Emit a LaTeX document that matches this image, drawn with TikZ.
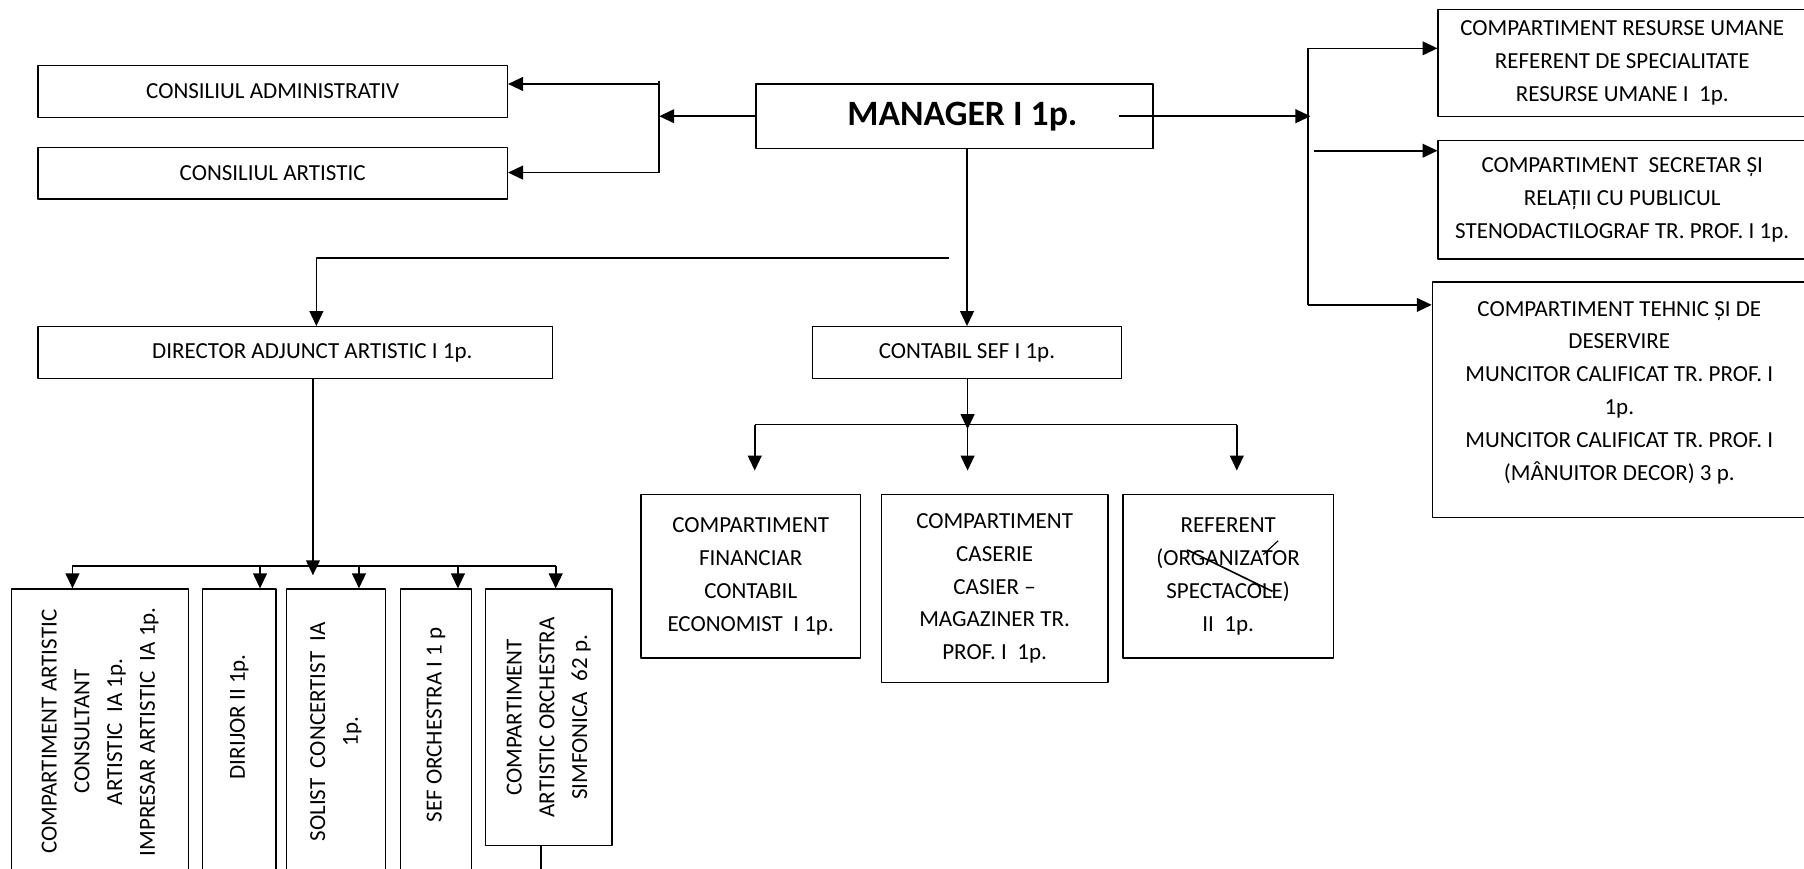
\documentclass[tikz,border=0pt]{standalone}
\usepackage{fontspec}
\setmainfont{Carlito}
\usetikzlibrary{arrows.meta}
\begin{document}
\begin{tikzpicture}[x=1pt,y=-1pt,line join=round,
	caseta/.style={draw,line width=1.2pt,inner sep=0pt,align=center,font=\fontsize{20}{28.5}\selectfont},
	sageata/.style={line width=1.4pt,-{Triangle[length=13pt,width=12pt]}},
	linie/.style={line width=1.4pt}]
	\clip (0,0) rectangle (1568,755);
	\fill[white] (0,0) rectangle (1568,755);
	%%%%%%%%%%%% CONDUCERE
	\node[caseta,minimum width=345,minimum height=56,font=\fontsize{31}{36}\selectfont\bfseries] (manager) at (829.5,101) {\hspace*{14pt}MANAGER I 1p.};
	\node[caseta,minimum width=408,minimum height=45] (consAdm) at (237,79.5) {CONSILIUL ADMINISTRATIV};
	\node[caseta,minimum width=408,minimum height=45] (consArt) at (237,150.5) {CONSILIUL ARTISTIC};
	%%%%%%%%%%%% COMPARTIMENTE DREAPTA
	\node[caseta,minimum width=320,minimum height=93] (resUm) at (1410,54.5) {COMPARTIMENT RESURSE UMANE\\REFERENT DE SPECIALITATE\\RESURSE UMANE I~~1p.};
	\node[caseta,minimum width=320,minimum height=103] (secretar) at (1410,173.5) {COMPARTIMENT~~SECRETAR ȘI\\RELAȚII CU PUBLICUL\\STENODACTILOGRAF TR. PROF. I 1p.};
	\node[caseta,minimum width=325,minimum height=205] (tehnic) at (1407.5,347.5) {COMPARTIMENT TEHNIC ȘI DE\\DESERVIRE\\MUNCITOR CALIFICAT TR. PROF. I\\1p.\\MUNCITOR CALIFICAT TR. PROF. I\\(MÂNUITOR DECOR) 3 p.\\[-12.5pt]};
	%%%%%%%%%%%% NIVEL 2
	\node[caseta,minimum width=447,minimum height=45] (director) at (256.5,306.5) {\hspace*{30pt}DIRECTOR ADJUNCT ARTISTIC I 1p.};
	\node[caseta,minimum width=269,minimum height=45] (contabil) at (840.5,306.5) {CONTABIL SEF I 1p.};
	%%%%%%%%%%%% FINANCIAR
	\node[caseta,minimum width=191,minimum height=142] (financiar) at (652.5,501) {COMPARTIMENT\\FINANCIAR\\CONTABIL\\ECONOMIST~~I 1p.};
	\node[caseta,minimum width=197,minimum height=163] (caserie) at (864.5,511.5) {COMPARTIMENT\\CASERIE\\CASIER --\\MAGAZINER TR.\\PROF. I~~1p.};
	\node[caseta,minimum width=183,minimum height=142] (referent) at (1067.5,501) {REFERENT\\(ORGANIZATOR\\SPECTACOLE)\\II~~1p.};
	\draw[line width=1.4pt] (1032,478) -- (1106,514);
	\draw[line width=1pt] (1098,482) -- (1111,470);
	%%%%%%%%%%%% ARTISTIC (text vertical)
	\node[caseta,rotate=90,minimum width=248,minimum height=154] (consultant) at (87,636) {COMPARTIMENT ARTISTIC\\CONSULTANT\\ARTISTIC~~IA 1p.\\IMPRESAR ARTISTIC~~IA 1p.};
	\node[caseta,rotate=90,minimum width=248,minimum height=64] (dirijor) at (208,636) {\hspace*{26pt}DIRIJOR II 1p.};
	\node[caseta,rotate=90,minimum width=248,minimum height=86] (solist) at (292,636) {SOLIST~~CONCERTIST~~IA\\1p.};
	\node[caseta,rotate=90,minimum width=248,minimum height=62] (sefOrch) at (379,636) {\hspace*{12pt}SEF ORCHESTRA I 1 p};
	\node[caseta,rotate=90,minimum width=223,minimum height=110] (orchestra) at (477,623.5) {COMPARTIMENT\\ARTISTIC ORCHESTRA\\SIMFONICA~~62 p.};
	%%%%%%%%%%%% LEGATURI
	\coordinate (jSt) at (573,101);
	\coordinate (jStSus) at (573,70);
	\coordinate (jSt1) at (573,73);
	\coordinate (jSt2) at (573,150);
	\draw[sageata] (manager.west) -- (jSt);
	\draw[linie] (jStSus) -- (jSt2);
	\draw[sageata] (jSt1) -- (jSt1 -| consAdm.east);
	\draw[sageata] (jSt2) -- (jSt2 -| consArt.east);
	\coordinate (jDr) at (1139,101);
	\coordinate (jDr1) at (1137,42);
	\coordinate (jDr2) at (1142,131);
	\coordinate (jDr3) at (1137,265);
	\draw[sageata] ([xshift=-30]manager.east) -- (jDr);
	\draw[linie] (jDr1) -- (jDr3);
	\draw[sageata] (jDr1) -- (jDr1 -| resUm.west);
	\draw[sageata] (jDr2) -- (jDr2 -| secretar.west);
	\draw[sageata] (jDr3) -- (jDr3 -| tehnic.west);
	\draw[sageata] (contabil.north |- manager.south) -- (contabil.north);
	\coordinate (jDir) at (825,224);
	\draw[sageata] (jDir) -| ([xshift=18.5]director.north);
	\coordinate (jCt1) at (656,369);
	\coordinate (jCt2) at (841,369);
	\coordinate (jCt3) at (1075,369);
	\draw[sageata] (jCt2 |- contabil.south) -- ([yshift=-4]jCt2);
	\draw[linie] (jCt1) -- (jCt3);
	\foreach \c in {jCt1,jCt2,jCt3}
	\draw[sageata] (\c) -- ++(0,40);
	\coordinate (jDa) at (272,492);
	\draw[sageata] (jDa |- director.south) -- ([yshift=-8]jDa);
	\coordinate (b1) at (63,492);
	\coordinate (b2) at (226,492);
	\coordinate (b3) at (312,492);
	\coordinate (b4) at (398,492);
	\coordinate (b5) at (483,492);
	\draw[linie] (b1) -- (b5);
	\foreach \b/\n in {b1/consultant,b2/dirijor,b3/solist,b4/sefOrch,b5/orchestra}
	\draw[sageata] (\b) -- (\b |- \n.east);
	\draw[linie] ([xshift=-7]orchestra.west) -- ++(0,30);
\end{tikzpicture}
\end{document}
